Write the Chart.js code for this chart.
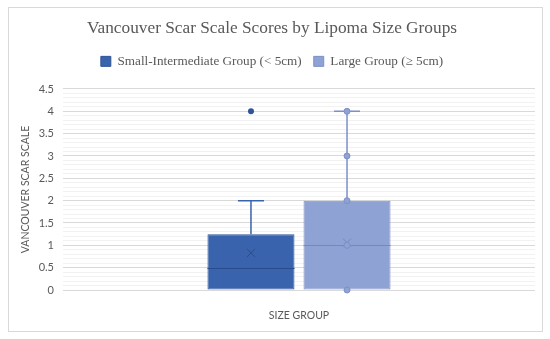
<!DOCTYPE html>
<html>
<head>
<meta charset="utf-8">
<script src="https://cdn.jsdelivr.net/npm/chart.js@4"></script>
<style>
    body { margin: 0; background: #fff; }
    #wrap {
        position: absolute; left: 8px; top: 7px;
        width: 533px; height: 323px;
        border: 1px solid #d9d9d9;
    }
</style>
</head>
<body>
<div id="wrap"><canvas id="boxChart"></canvas></div>
<script>
// Box plot values
const groups = ['Small-Intermediate Group (< 5cm)', 'Large Group (\u2265 5cm)'];
const q1 = [0, 0];
const q3 = [1.25, 2];
const medians = [0.5, 1];
const means = [0.83, 1.06];
const whiskerLow = [0, 0];
const whiskerHigh = [2, 4];
const outliers = [[4], []];
const innerPoints = [[], [0, 1, 2, 3, 4]];

const fills = ['#3A63AD', '#8FA2D4'];
const borders = ['#2F5597', '#7D90C8'];
const medianColors = ['#2B4C8C', '#7888BE'];

// draws median, mean, whiskers and points on top of the floating bars
const boxExtras = {
    id: 'boxExtras',
    afterDatasetsDraw(chart) {
        const ctx = chart.ctx;
        const y = chart.scales.y;
        ctx.save();
        groups.forEach((g, i) => {
            const bar = chart.getDatasetMeta(i).data[0];
            const cx = bar.x;
            const half = bar.width / 2;
            const cap = 13;

            // median
            const medY = Math.round(y.getPixelForValue(medians[i])) + 0.5;
            ctx.strokeStyle = medianColors[i];
            ctx.lineWidth = 1;
            ctx.beginPath();
            ctx.moveTo(cx - half, medY);
            ctx.lineTo(cx + half, medY);
            ctx.stroke();

            // whiskers
            ctx.strokeStyle = i === 0 ? fills[0] : borders[1];
            ctx.lineWidth = 1.5;
            const top = y.getPixelForValue(whiskerHigh[i]);
            const boxTop = y.getPixelForValue(q3[i]);
            if (whiskerHigh[i] > q3[i]) {
                ctx.beginPath();
                ctx.moveTo(cx, boxTop);
                ctx.lineTo(cx, top);
                ctx.moveTo(cx - cap, top);
                ctx.lineTo(cx + cap, top);
                ctx.stroke();
            }
            const bot = y.getPixelForValue(whiskerLow[i]);
            const boxBot = y.getPixelForValue(q1[i]);
            if (whiskerLow[i] < q1[i]) {
                ctx.beginPath();
                ctx.moveTo(cx, boxBot);
                ctx.lineTo(cx, bot);
                ctx.moveTo(cx - cap, bot);
                ctx.lineTo(cx + cap, bot);
                ctx.stroke();
            }

            // mean marker
            const my = y.getPixelForValue(means[i]);
            ctx.strokeStyle = medianColors[i];
            ctx.lineWidth = 1;
            ctx.beginPath();
            ctx.moveTo(cx - 4, my - 4);
            ctx.lineTo(cx + 4, my + 4);
            ctx.moveTo(cx + 4, my - 4);
            ctx.lineTo(cx - 4, my + 4);
            ctx.stroke();

            // inner points
            innerPoints[i].forEach(v => {
                ctx.beginPath();
                ctx.arc(cx, y.getPixelForValue(v), 3, 0, Math.PI * 2);
                ctx.fillStyle = fills[i];
                ctx.fill();
                ctx.strokeStyle = borders[i];
                ctx.lineWidth = 1;
                ctx.stroke();
            });

            // outliers
            outliers[i].forEach(v => {
                ctx.beginPath();
                ctx.arc(cx, y.getPixelForValue(v), 3, 0, Math.PI * 2);
                ctx.fillStyle = borders[i];
                ctx.fill();
            });
        });
        ctx.restore();
    }
};

const sans = "Lato, 'Open Sans', sans-serif";
const serif = "'Palatino Linotype', 'Book Antiqua', Palatino, 'Liberation Serif', serif";

new Chart(document.getElementById('boxChart'), {
    type: 'bar',
    data: {
        labels: [''],
        datasets: groups.map((g, i) => ({
            label: g,
            data: [[q1[i], q3[i]]],
            backgroundColor: fills[i],
            borderColor: borders[i],
            borderWidth: 1,
            borderSkipped: false,
            categoryPercentage: 0.407,
            barPercentage: 0.906
        }))
    },
    options: {
        responsive: true,
        maintainAspectRatio: false,
        animation: false,
        layout: { padding: { left: 0, right: 7, top: 6, bottom: 0 } },
        plugins: {
            tooltip: { enabled: false },
            title: {
                display: true,
                text: 'Vancouver Scar Scale Scores by Lipoma Size Groups',
                color: '#595959',
                font: { family: serif, size: 17.3, weight: 'normal' },
                padding: { top: 4, bottom: 4 }
            },
            legend: {
                position: 'top',
                labels: {
                    color: '#595959',
                    font: { family: serif, size: 13.2 },
                    boxWidth: 10,
                    boxHeight: 10,
                    padding: 12
                }
            }
        },
        scales: {
            // empty spacer between legend and plot
            gap: {
                type: 'category',
                position: 'top',
                grid: { display: false },
                border: { display: false },
                ticks: { display: false },
                afterFit: scale => { scale.height = 11; }
            },
            x: {
                grid: { display: false },
                border: { display: false },
                ticks: { display: false },
                title: {
                    display: true,
                    text: 'SIZE GROUP',
                    color: '#595959',
                    font: { family: sans, size: 10.5 },
                    padding: { top: 4, bottom: 9 }
                },
                afterFit: scale => { scale.height = 41; }
            },
            y: {
                min: 0,
                max: 4.5,
                border: { display: false },
                grid: {
                    drawTicks: false,
                    color: ctx => Math.round(ctx.tick.value * 10) % 5 === 0 ? '#d9d9d9' : '#f2f2f2'
                },
                ticks: {
                    stepSize: 0.1,
                    autoSkip: false,
                    maxTicksLimit: 100,
                    padding: 9,
                    color: '#595959',
                    font: { family: sans, size: 11 },
                    callback: v => {
                        const t = Math.round(v * 10);
                        return t % 5 === 0 ? String(t / 10) : '';
                    }
                },
                title: {
                    display: true,
                    text: 'VANCOUVER SCAR SCALE',
                    color: '#595959',
                    font: { family: sans, size: 10.5 },
                    padding: { top: 10, bottom: 4 }
                },
                afterFit: scale => { scale.width = 54; }
            }
        }
    },
    plugins: [boxExtras]
});
</script>
</body>
</html>
